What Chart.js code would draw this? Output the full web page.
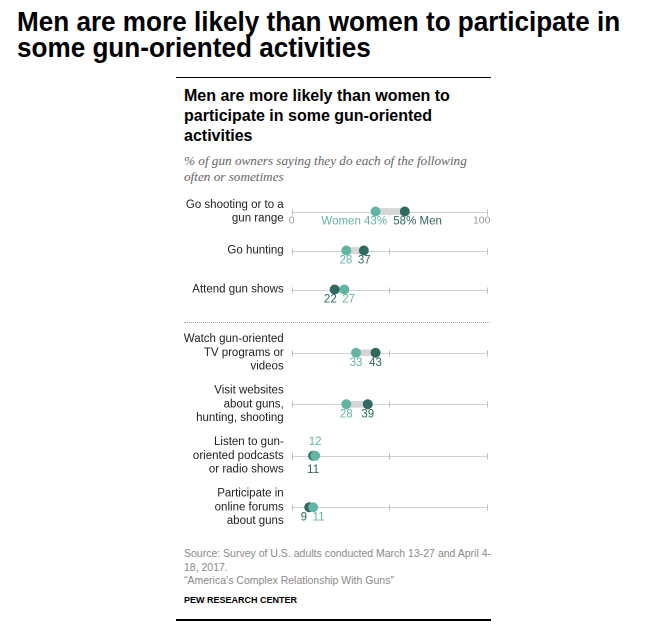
<!DOCTYPE html>
<html>
<head>
<meta charset="utf-8">
<script src="https://cdn.jsdelivr.net/npm/chart.js@4.4.1/dist/chart.umd.min.js"></script>
<style>
    body { margin: 0; width: 669px; height: 635px; background: #fff; position: relative; overflow: hidden; font-family: "Liberation Sans", Arial, sans-serif; }
    .abs { position: absolute; }
    #page-title { left: 17px; top: 9px; font-weight: bold; font-size: 28px; line-height: 26px; color: #000; white-space: nowrap; transform-origin: 0 0; }
    .rule { left: 176px; width: 315px; background: #000; }
    #title { left: 184px; top: 86px; font-weight: bold; font-size: 16px; line-height: 20px; color: #000; white-space: nowrap; }
    #subtitle { left: 184px; top: 153px; font-family: "Liberation Serif", serif; font-style: italic; font-size: 13.2px; line-height: 16px; color: #666; white-space: nowrap; }
    #sep { left: 184px; top: 322px; width: 306px; border-top: 1px dotted #aaa; }
    #source { left: 184px; top: 547px; font-size: 10.5px; line-height: 13.5px; color: #8a8a8a; white-space: nowrap; }
    #pew { left: 184px; top: 595px; font-size: 9px; font-weight: bold; color: #000; }
    canvas { position: absolute; }
</style>
</head>
<body>
<div id="page-title" class="abs">Men are more likely than women to participate in<br>some gun-oriented activities</div>
<div class="abs rule" style="top:77px;height:1px"></div>
<div id="title" class="abs">Men are more likely than women to<br>participate in some gun-oriented<br>activities</div>
<div id="subtitle" class="abs">% of gun owners saying they do each of the following<br>often or sometimes</div>
<canvas id="chartTop" style="left:176px;top:192px;width:320px;height:117px"></canvas>
<div id="sep" class="abs"></div>
<canvas id="chartBottom" style="left:176px;top:327px;width:320px;height:206px"></canvas>
<div id="source" class="abs">Source: Survey of U.S. adults conducted March 13-27 and April 4-<br>18, 2017.<br>“America’s Complex Relationship With Guns”</div>
<div id="pew" class="abs">PEW RESEARCH CENTER</div>
<div class="abs rule" style="top:619px;height:2px"></div>
<script>
const topCategories = [['Go shooting or to a', 'gun range'], ['Go hunting'], ['Attend gun shows']];
const topWomen = [43, 28, 27];
const topMen = [58, 37, 22];

const bottomCategories = [
    ['Watch gun-oriented', 'TV programs or', 'videos'],
    ['Visit websites', 'about guns,', 'hunting, shooting'],
    ['Listen to gun-', 'oriented podcasts', 'or radio shows'],
    ['Participate in', 'online forums', 'about guns']
];
const bottomWomen = [33, 28, 12, 11];
const bottomMen = [43, 39, 11, 9];

const axisTicks = [0, 50, 100];
const axisLabels = [0, 100];

const womenColor = '#62b5a2';
const menColor = '#2e6a5d';

// no narrow font installed, squeeze the headline to the reference width
const pt = document.getElementById('page-title');
pt.style.transform = 'scaleX(' + (603 / pt.offsetWidth) + ')';

// row lines, ticks, value labels
const rowsPlugin = {
    id: 'rows',
    beforeDatasetsDraw(chart) {
        const { ctx, scales: { x, y } } = chart;
        ctx.save();
        chart.data.labels.forEach((l, i) => {
            const py = Math.round(y.getPixelForValue(i)) + 0.5;
            ctx.strokeStyle = '#d2d2d2';
            ctx.lineWidth = 1;
            ctx.beginPath();
            ctx.moveTo(x.getPixelForValue(0), py);
            ctx.lineTo(x.getPixelForValue(100), py);
            ctx.stroke();
            ctx.strokeStyle = '#bdbdbd';
            axisTicks.forEach(t => {
                const px = Math.round(x.getPixelForValue(t)) + 0.5;
                ctx.beginPath();
                ctx.moveTo(px, py - 3);
                ctx.lineTo(px, py + 3);
                ctx.stroke();
            });
        });
        ctx.restore();
    },
    afterDatasetsDraw(chart, args, opts) {
        const { ctx, scales: { x, y } } = chart;
        const women = chart.data.datasets[1].data;
        const men = chart.data.datasets[2].data;
        ctx.save();
        ctx.textBaseline = 'middle';
        ctx.font = '11.5px "Liberation Sans", Arial, sans-serif';
        women.forEach((w, i) => {
            const py = y.getPixelForValue(i);
            const pct = opts.legendRow === i ? '%' : '';
            const items = [
                { v: w, c: womenColor, who: 'Women' },
                { v: men[i], c: menColor, who: 'Men' }
            ].map(it => ({ ...it, txt: it.v + pct, x: x.getPixelForValue(it.v) }));
            items.forEach(it => it.w = ctx.measureText(it.txt).width);

            if (Math.abs(items[0].v - items[1].v) <= 1) {
                // too close: women above, men below
                ctx.textAlign = 'center';
                ctx.fillStyle = items[0].c;
                ctx.fillText(items[0].txt, items[0].x, py - 14);
                ctx.fillStyle = items[1].c;
                ctx.fillText(items[1].txt, items[1].x, py + 14);
                return;
            }
            items.sort((a, b) => a.x - b.x);
            const [a, b] = items;
            const overlap = (a.x + a.w / 2 + 5.5) - (b.x - b.w / 2);
            if (overlap > 0) { a.x -= overlap / 2; b.x += overlap / 2; }
            ctx.textAlign = 'center';
            items.forEach(it => {
                ctx.fillStyle = it.c;
                ctx.fillText(it.txt, it.x, py + 10);
            });
            if (opts.legendRow === i) {
                ctx.fillStyle = a.c;
                ctx.textAlign = 'right';
                ctx.fillText(a.who + ' ', a.x - a.w / 2, py + 10);
                ctx.fillStyle = b.c;
                ctx.textAlign = 'left';
                ctx.fillText(' ' + b.who, b.x + b.w / 2, py + 10);
            }
        });
        if (opts.legendRow !== undefined) {
            const py = y.getPixelForValue(opts.legendRow);
            ctx.fillStyle = '#9a9a9a';
            ctx.font = '10.5px "Liberation Sans", Arial, sans-serif';
            ctx.textAlign = 'center';
            ctx.fillText(String(axisLabels[0]), x.getPixelForValue(axisLabels[0]), py + 9);
            ctx.fillText(String(axisLabels[1]), x.getPixelForValue(axisLabels[1]) - 5, py + 9);
        }
        ctx.restore();
    }
};

function makeChart(id, cats, women, men, legendRow) {
    const el = document.getElementById(id);
    el.width = 320;
    el.height = parseFloat(el.style.height);
    return new Chart(el, {
        type: 'bar',
        data: {
            labels: cats,
            datasets: [
                { type: 'bar', indexAxis: 'y', data: women.map((w, i) => [w, men[i]]), backgroundColor: '#d6d6d6', barThickness: 6, borderSkipped: false, order: 3 },
                { type: 'line', indexAxis: 'y', data: women, showLine: false, pointRadius: 5, pointBackgroundColor: womenColor, pointBorderWidth: 0, order: 1, clip: false },
                { type: 'line', indexAxis: 'y', data: men, showLine: false, pointRadius: 5, pointBackgroundColor: menColor, pointBorderWidth: 0, order: 2, clip: false }
            ]
        },
        options: {
            indexAxis: 'y',
            responsive: false,
            animation: false,
            devicePixelRatio: 2,
            layout: { autoPadding: false, padding: { left: 0, top: 0, bottom: 0, right: 9.3 } },
            plugins: { legend: { display: false }, tooltip: { enabled: false }, rows: { legendRow } },
            scales: {
                x: { type: 'linear', min: 0, max: 100, display: false },
                y: {
                    offset: true,
                    grid: { display: false, drawTicks: false },
                    border: { display: false },
                    ticks: { padding: 8, color: '#222', font: { family: '"Liberation Sans", Arial, sans-serif', size: 11.5, lineHeight: 1.2 } },
                    afterFit(scale) {
                        scale.width = 115.7;
                        scale.paddingTop = 0;
                        scale.paddingBottom = 0;
                    }
                }
            }
        },
        plugins: [rowsPlugin]
    });
}

makeChart('chartTop', topCategories, topWomen, topMen, 0);
makeChart('chartBottom', bottomCategories, bottomWomen, bottomMen, undefined);
</script>
</body>
</html>
